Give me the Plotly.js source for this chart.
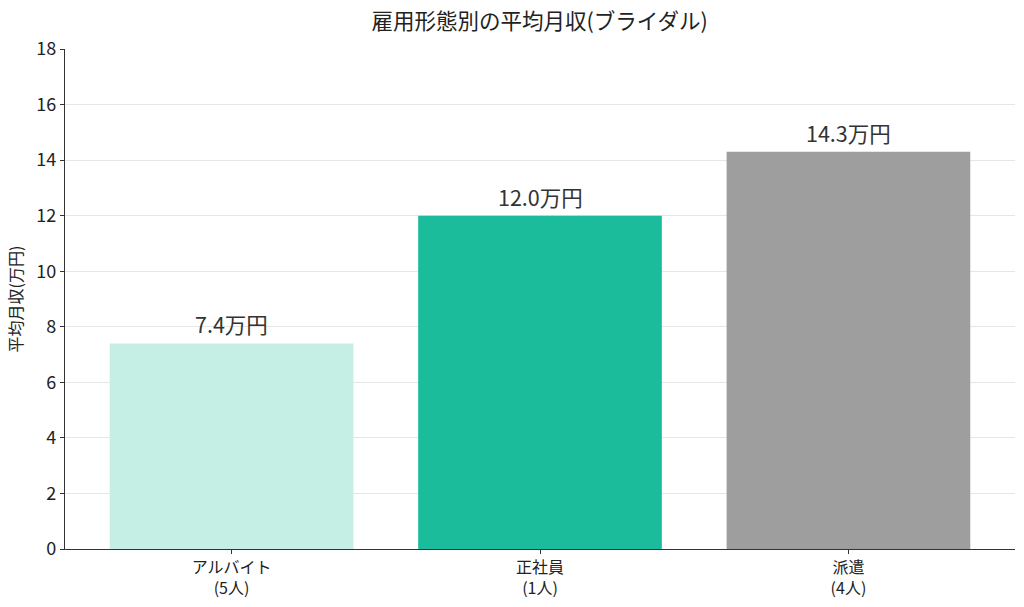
<!DOCTYPE html>
<html><head><meta charset="utf-8">
<script src="https://cdn.plot.ly/plotly-3.0.1.min.js"></script>
<style>html,body{margin:0;padding:0;background:#fff}#c{width:1024px;height:607px}</style>
</head><body><div id="c"></div>
<script>
var categories = ['アルバイト<br>(5人)', '正社員<br>(1人)', '派遣<br>(4人)'];
var values = [7.4, 12.0, 14.3];
var colors = ['#c5efe4', '#1abc9c', '#9e9e9e'];
var yTicks = [0, 2, 4, 6, 8, 10, 12, 14, 16, 18];

var F = '"Noto Sans CJK JP", "Noto Sans", sans-serif';
var xIdx = categories.map(function(_, i){ return i; });

var trace = {
  type: 'bar', x: xIdx, y: values,
  marker: {color: colors, line: {width: 0}},
  width: 0.79, hoverinfo: 'none'
};
var annotations = values.map(function(v, i){
  return {x: i, y: v, text: v.toFixed(1) + '万円', showarrow: false,
    yanchor: 'bottom', yshift: 2, font: {family: F, size: 21.5, color: '#333'}};
});
var layout = {
  width: 1024, height: 607,
  margin: {l: 65, r: 9, t: 49, b: 58},
  paper_bgcolor: '#fff', plot_bgcolor: '#fff',
  font: {family: F, size: 16, color: '#222'},
  title: {text: '雇用形態別の平均月収(ブライダル)', x: 0.527, xanchor: 'center', y: 0.965, yanchor: 'middle', font: {family: F, size: 21.5, color: '#222'}},
  showlegend: false,
  bargap: 0.2,
  xaxis: {range: [-0.54, 2.54], tickvals: xIdx, ticktext: categories, showgrid: false,
    showline: true, linecolor: '#333', linewidth: 1.2, ticks: 'outside', ticklen: 4, tickcolor: '#333',
    zeroline: false, tickfont: {family: F, size: 16, color: '#222'}, fixedrange: true},
  yaxis: {range: [0, 18], tickvals: yTicks, showgrid: true, gridcolor: 'rgba(200,200,200,0.45)', gridwidth: 1,
    showline: true, linecolor: '#333', linewidth: 1.2, ticks: 'outside', ticklen: 4, tickcolor: '#333',
    zeroline: false, layer: 'above traces', tickfont: {family: F, size: 18, color: '#222'},
    title: {text: '平均月収(万円)', font: {family: F, size: 16, color: '#222'}, standoff: 9}},
  annotations: annotations
};
Plotly.newPlot('c', [trace], layout, {displayModeBar: false, staticPlot: true});
</script></body></html>
